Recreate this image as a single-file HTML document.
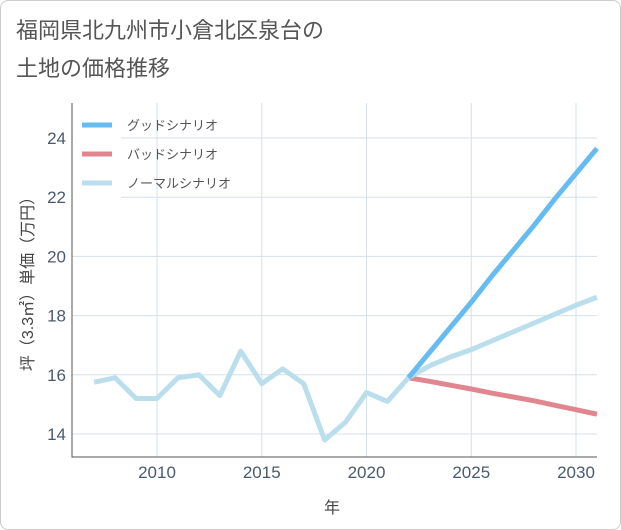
<!DOCTYPE html>
<html><head><meta charset="utf-8"><style>
body{margin:0;background:#fff;}
#wrap{position:relative;width:619px;height:528px;border:1px solid #ccc;border-radius:8px;background:#fff;}
</style></head><body>
<div id="wrap">
<svg id="chart" width="621" height="530" style="position:absolute;left:-1px;top:-1px" font-family="'Liberation Sans','Noto Sans CJK JP',sans-serif">
<text x="16" y="38" font-size="22" fill="#555">福岡県北九州市小倉北区泉台の</text>
<text x="16" y="76" font-size="22" fill="#555">土地の価格推移</text>
<g id="grid"></g>
<g id="series"></g>
<g id="legend"></g>
<text x="332" y="513" font-size="16" fill="#444" text-anchor="middle">年</text>
<text transform="translate(33,280) rotate(-90)" font-size="16" fill="#444" text-anchor="middle">坪（3.3㎡）単価（万円）</text>
</svg>
</div>
<script>
const years=[2007,2008,2009,2010,2011,2012,2013,2014,2015,2016,2017,2018,2019,2020,2021,2022];
const normalHist=[15.75,15.9,15.2,15.2,15.9,16.0,15.3,16.8,15.7,16.2,15.7,13.8,14.4,15.4,15.1,15.9];
const futYears=[2022,2023,2024,2025,2026,2027,2028,2029,2030,2031];
const goodVals=[15.9,16.75,17.6,18.45,19.35,20.2,21.05,21.95,22.8,23.65];
const badVals=[15.9,15.78,15.65,15.52,15.38,15.25,15.12,14.97,14.82,14.67];
const normalFut=[15.9,16.3,16.6,16.85,17.15,17.45,17.75,18.05,18.35,18.62];
const xTicks=[2010,2015,2020,2025,2030];
const yTicks=[14,16,18,20,22,24];
const X0=72,X1=597,Y0=103,Y1=457;
const xs=y=>157+(y-2010)*20.95;
const ys=v=>434-(v-14)*29.6;
const NS='http://www.w3.org/2000/svg';
function mk(tag,attrs,parent){const e=document.createElementNS(NS,tag);for(const k in attrs)e.setAttribute(k,attrs[k]);parent.appendChild(e);return e;}
const g=document.getElementById('grid'),s=document.getElementById('series'),lg=document.getElementById('legend');
xTicks.forEach(t=>{
 const l=mk('line',{x1:xs(t),x2:xs(t),y1:Y0,y2:Y1,stroke:'#d5e0ea'},g);
 
 
 const tx=mk('text',{x:xs(t),y:478,'font-size':17,fill:'#4a5a6e','text-anchor':'middle'},g);tx.textContent=t;
 
 
});
yTicks.forEach(t=>{
 const l=mk('line',{x1:X0,x2:X1,y1:ys(t),y2:ys(t),stroke:'#d5e0ea'},g);
 
 
 const tx=mk('text',{x:66,y:ys(t)+6,'font-size':17,fill:'#4a5a6e','text-anchor':'end'},g);tx.textContent=t;
 
 
});
const ax=mk('path',{d:`M${X0} ${Y0}V${Y1}H${X1}`,stroke:'#555',fill:'none'},g);


function line(xv,yv,color,name){
 const p=mk('polyline',{points:xv.map((x,i)=>xs(x)+','+ys(yv[i])).join(' '),fill:'none',stroke:color,'stroke-width':5,'stroke-linejoin':'round'},s);
 
 
}
line(futYears,badVals,'#e0868f','bad-scenario-line');
line(futYears,normalFut,'#badeec','normal-scenario-line');
line(futYears,goodVals,'#66bbf0','good-scenario-line');
line(years,normalHist,'#badeec','historical-line');
const bg=mk('rect',{x:73,y:104,width:48,height:96,fill:'#fff'},lg);


[['グッドシナリオ','#66bbf0'],['バッドシナリオ','#e0868f'],['ノーマルシナリオ','#badeec']].forEach((d,i)=>{
 const y=125+i*29;
 const l=mk('line',{x1:82,x2:112,y1:y,y2:y,stroke:d[1],'stroke-width':5},lg);
 
 
 const t=mk('text',{x:127,y:y+5,'font-size':13,fill:'#555'},lg);t.textContent=d[0];
 
 
});
</script>
</body></html>
